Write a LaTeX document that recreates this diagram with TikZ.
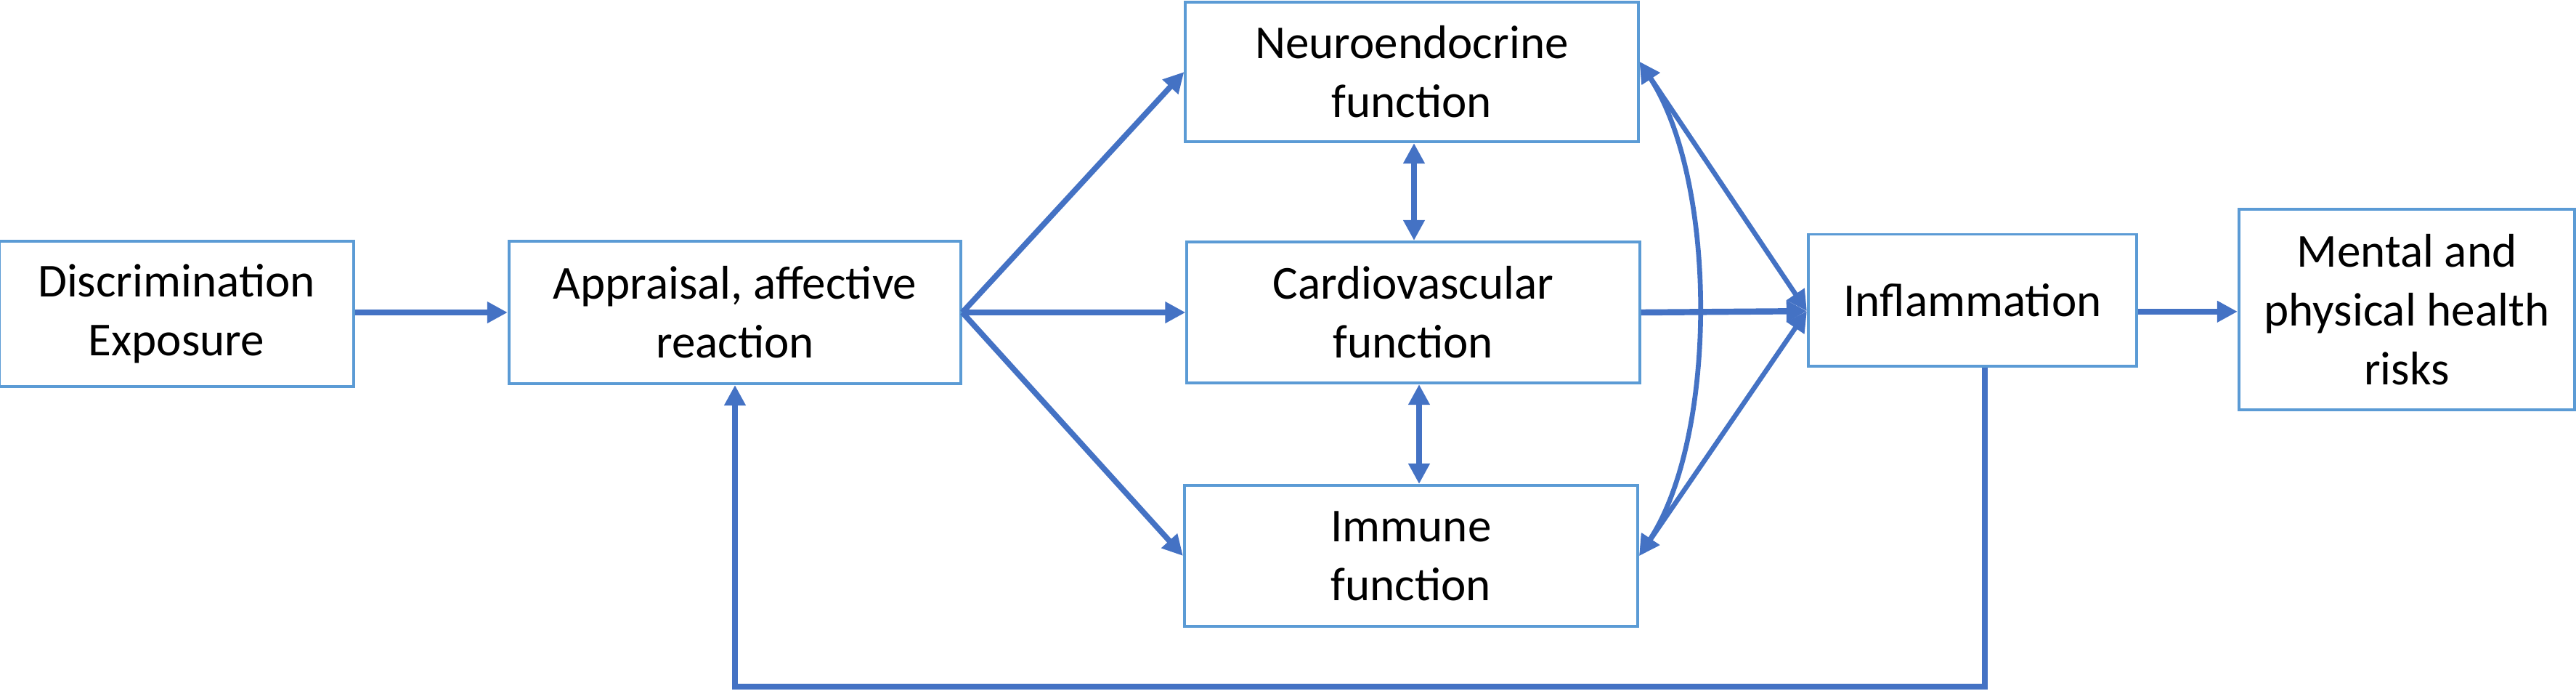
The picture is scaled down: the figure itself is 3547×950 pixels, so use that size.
\documentclass[tikz,border=0pt]{standalone}
\usepackage{fontspec}
\setmainfont{Carlito}
\usetikzlibrary{arrows.meta}
\definecolor{boxblue}{HTML}{5B9BD5}
\definecolor{arrblue}{HTML}{4472C4}
\begin{document}
\begin{tikzpicture}[x=0.01cm,y=-0.01cm,
  box/.style={draw=boxblue, line width=1.1pt, fill=white, inner sep=0pt, align=center,
    font=\fontsize{18.5}{23}\selectfont},
  tip/.style={Triangle[length=8pt,width=8pt]},
  conn/.style={draw=arrblue, line width=2.4pt, -{Triangle[length=8pt,width=8pt]}},
  conndbl/.style={draw=arrblue, line width=2.2pt, {Triangle[length=8pt,width=8pt]}-{Triangle[length=8pt,width=8pt]}},
  thin/.style={draw=arrblue, line width=1.9pt, {Triangle[length=8pt,width=8pt]}-{Triangle[length=8pt,width=8pt]}},
  line/.style={draw=arrblue, line width=2.2pt, -{Triangle[length=8pt,width=8pt]}}]
\useasboundingbox (0,0) rectangle (3547,950);

\node[box, minimum width=4.87cm, minimum height=2.0cm] (disc) at (243,432) {Discrimination\\Exposure};
\node[box, minimum width=6.22cm, minimum height=1.96cm] (appr) at (1012,430) {Appraisal, affective\\reaction};
\node[box, minimum width=6.23cm, minimum height=1.92cm] (neuro) at (1944,99) {Neuroendocrine\\function};
\node[box, minimum width=6.23cm, minimum height=1.94cm] (cardio) at (1946,430) {Cardiovascular\\function};
\node[box, minimum width=6.24cm, minimum height=1.94cm] (immune) at (1943,765) {Immune\\function};
\node[box, minimum width=4.52cm, minimum height=1.81cm] (infl) at (2716,413) {Inflammation};
\node[box, minimum width=4.62cm, minimum height=2.76cm] (mental) at (3314,426) {Mental and\\physical health\\risks};

\coordinate (nE) at ([yshift=4pt]neuro.east);
\coordinate (inW) at ([yshift=-4.3pt]infl.west);
\coordinate (inE) at ([yshift=-4.5pt]infl.east);
\coordinate (fb) at ([xshift=4.8pt]infl.south);

\draw[conn] (disc.east |- appr.east) -- (appr.east -| disc.east) -- (appr.west);
\draw[line] (appr.east) -- (neuro.west);
\draw[conn] (appr.east) -- (cardio.west);
\draw[line] (appr.east) -- (immune.west);
\draw[conndbl] (neuro.south -| 1947,0) -- (cardio.north -| 1947,0);
\draw[conndbl] (cardio.south -| 1954,0) -- (immune.north -| 1954,0);
\draw[conn] (cardio.east) -- (inW);
\draw[thin] (inW) -- (nE);
\draw[thin] (inW) -- (immune.east);
\draw[thin] (nE) .. controls (2365,250) and (2365,600) .. (immune.east);
\draw[conn] (inE) -- (inE -| mental.west);
\draw[line] (fb) -- (fb |- 0,945) -| (appr.south);
\end{tikzpicture}
\end{document}
